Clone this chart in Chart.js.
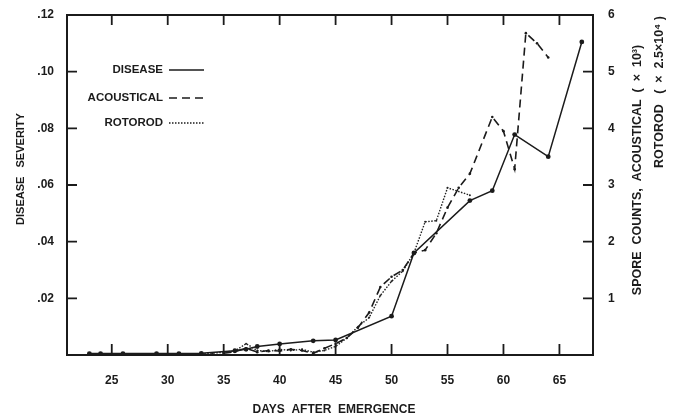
<!DOCTYPE html>
<html>
<head>
<meta charset="utf-8">
<script src="https://cdn.jsdelivr.net/npm/chart.js@4.4.1/dist/chart.umd.min.js"></script>
<style>
  html, body { margin: 0; padding: 0; background: #fff; }
</style>
</head>
<body>
<canvas id="chart" width="677" height="417"></canvas>
<script>
// ---- data ----
const DAY_TICKS      = [25, 30, 35, 40, 45, 50, 55, 60, 65];
const SEVERITY_TICKS = [0.02, 0.04, 0.06, 0.08, 0.10, 0.12];
const SPORE_TICKS    = [1, 2, 3, 4, 5, 6];

const DISEASE_DAYS     = [23, 24, 26, 29, 31, 33, 36, 37, 38, 40, 43, 45, 50, 52, 57, 59, 61, 64, 67];
const DISEASE_SEVERITY = [.0005, .0005, .0005, .0005, .0005, .0006, .0015, .002, .003, .0039, .005, .0053,
                          .0137, .036, .0545, .058, .0778, .070, .1105];

const ACOUSTIC_DAYS   = [35, 36, 37, 38, 39, 40, 41, 42, 43, 44, 45, 46, 47, 48, 49, 50, 51, 52, 53, 54, 55, 56, 57, 59, 60, 61, 62, 63, 64];
const ACOUSTIC_COUNTS = [0.03, 0.06, 0.12, 0.05, 0.08, 0.07, 0.1, 0.08, 0.03, 0.12, 0.2, 0.3, 0.48, 0.75, 1.2, 1.38, 1.5,
                         1.8, 1.85, 2.15, 2.6, 2.95, 3.2, 4.2, 3.95, 3.28, 5.68, 5.5, 5.25];

const ROTOROD_DAYS   = [33, 34, 35, 36, 37, 38, 39, 40, 41, 42, 43, 44, 45, 46, 47, 48, 49, 50, 51, 52, 53, 54, 55, 57];
const ROTOROD_COUNTS = [0.02, 0.03, 0.05, 0.07, 0.2, 0.08, 0.06, 0.1, 0.08, 0.1, 0.05, 0.08, 0.15, 0.3, 0.5, 0.66,
                        1.05, 1.3, 1.48, 1.8, 2.35, 2.37, 2.95, 2.82];

const INK  = '#1b1b1b';
const FONT = "'Liberation Sans', Arial, sans-serif";

const toPoints = (xs, ys) => xs.map((x, i) => ({ x, y: ys[i] }));
const fixTicks = list => scale => { scale.ticks = list.map(v => ({ value: v })); };

// frame + inward tick marks on all four sides
const framePlugin = {
  id: 'frame',
  afterDatasetsDraw(chart) {
    const { ctx, chartArea: a, scales } = chart;
    ctx.save();
    ctx.strokeStyle = INK;
    ctx.lineWidth = 2;
    ctx.strokeRect(a.left, a.top, a.right - a.left, a.bottom - a.top);
    ctx.lineWidth = 1.8;
    ctx.beginPath();
    scales.x.ticks.forEach(t => {
      const px = scales.x.getPixelForValue(t.value);
      ctx.moveTo(px, a.bottom); ctx.lineTo(px, a.bottom - 11);
      ctx.moveTo(px, a.top);    ctx.lineTo(px, a.top + 10);
    });
    scales.y.ticks.forEach(t => {
      const py = scales.y.getPixelForValue(t.value);
      ctx.moveTo(a.left, py); ctx.lineTo(a.left + 10, py);
    });
    scales.y2.ticks.forEach(t => {
      const py = scales.y2.getPixelForValue(t.value);
      ctx.moveTo(a.right, py); ctx.lineTo(a.right - 10, py);
    });
    ctx.stroke();
    ctx.restore();
  }
};

// axis titles and the in-plot legend
const textPlugin = {
  id: 'texts',
  afterDraw(chart) {
    const { ctx, data } = chart;
    ctx.save();
    ctx.fillStyle = INK;
    ctx.textBaseline = 'middle';

    ctx.font = `bold 12px ${FONT}`;
    ctx.textAlign = 'center';
    ctx.fillText('DAYS  AFTER  EMERGENCE', 334, 410);

    const vertical = (text, x, y) => {
      ctx.save();
      ctx.translate(x, y);
      ctx.rotate(-Math.PI / 2);
      ctx.fillText(text, 0, 0);
      ctx.restore();
    };
    ctx.font = `bold 11px ${FONT}`;
    vertical('DISEASE   SEVERITY', 21, 169);
    ctx.font = `bold 12.5px ${FONT}`;
    vertical('SPORE  COUNTS,  ACOUSTICAL  (  ×  10³)', 638, 170);
    vertical('ROTOROD   (  ×  2.5×10⁴ )', 660, 92);

    // legend
    const rows = [70, 98, 123];
    ctx.font = `bold 11.5px ${FONT}`;
    ctx.textAlign = 'right';
    data.datasets.forEach((ds, i) => {
      const y = rows[i];
      ctx.fillText(ds.label, 163, y);
      ctx.save();
      ctx.strokeStyle = INK;
      ctx.lineWidth = ds.borderWidth;
      ctx.setLineDash(ds.borderDash || []);
      ctx.beginPath();
      ctx.moveTo(169, y);
      ctx.lineTo(204, y);
      ctx.stroke();
      ctx.restore();
    });
    ctx.restore();
  }
};

const tickFont = { family: FONT, size: 12, weight: 'bold' };

new Chart(document.getElementById('chart'), {
  type: 'line',
  data: {
    datasets: [
      {
        label: 'DISEASE',
        data: toPoints(DISEASE_DAYS, DISEASE_SEVERITY),
        yAxisID: 'y',
        borderColor: INK, backgroundColor: INK,
        borderWidth: 1.5,
        pointRadius: 2.4, pointBorderWidth: 0,
      },
      {
        label: 'ACOUSTICAL',
        data: toPoints(ACOUSTIC_DAYS, ACOUSTIC_COUNTS),
        yAxisID: 'y2',
        borderColor: INK, backgroundColor: INK,
        borderWidth: 1.6, borderDash: [8, 5],
        pointRadius: 1.3, pointBorderWidth: 0,
      },
      {
        label: 'ROTOROD',
        data: toPoints(ROTOROD_DAYS, ROTOROD_COUNTS),
        yAxisID: 'y2',
        borderColor: '#222', backgroundColor: '#222',
        borderWidth: 1.4, borderDash: [1.5, 1.5],
        pointRadius: 1, pointBorderWidth: 0,
      },
    ]
  },
  options: {
    responsive: false,
    animation: false,
    devicePixelRatio: 1,
    layout: { padding: { top: 15, left: 0, right: 0, bottom: 0 } },
    plugins: { legend: { display: false }, tooltip: { enabled: false } },
    scales: {
      x: {
        type: 'linear', min: 21, max: 68,
        afterBuildTicks: fixTicks(DAY_TICKS),
        afterFit: s => { s.height = 62; },
        grid: { display: false }, border: { display: false },
        ticks: { font: tickFont, color: INK, padding: 10, maxRotation: 0 },
      },
      y: {
        type: 'linear', position: 'left', min: 0, max: 0.12,
        afterBuildTicks: fixTicks(SEVERITY_TICKS),
        afterFit: s => { s.width = 67; },
        grid: { display: false }, border: { display: false },
        ticks: {
          font: tickFont, color: INK, padding: 5,
          callback: v => '.' + String(Math.round(v * 100)).padStart(2, '0'),
        },
      },
      y2: {
        type: 'linear', position: 'right', min: 0, max: 6,
        afterBuildTicks: fixTicks(SPORE_TICKS),
        afterFit: s => { s.width = 84; },
        grid: { display: false }, border: { display: false },
        ticks: { font: tickFont, color: INK, padding: 7 },
      },
    }
  },
  plugins: [framePlugin, textPlugin]
});
</script>
</body>
</html>
